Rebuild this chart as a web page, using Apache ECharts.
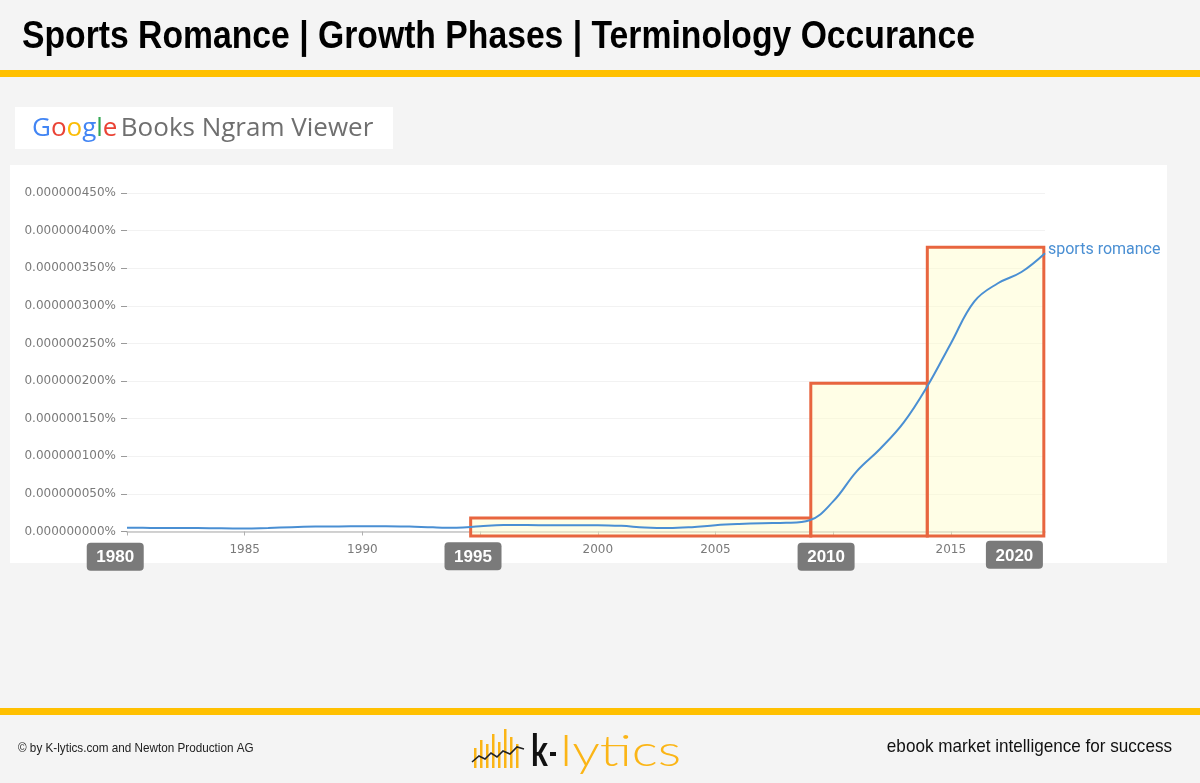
<!DOCTYPE html>
<html>
<head>
<meta charset="UTF-8">
<title>Sports Romance | Growth Phases | Terminology Occurance</title>
<script src="https://cdn.jsdelivr.net/npm/echarts@6/dist/echarts.min.js"></script>
<style>
  html, body { margin: 0; padding: 0; background: #f4f4f4; }
  #chart { width: 1200px; height: 783px; }
</style>
</head>
<body>
<div id="chart"></div>
<script>
// ngram frequency of "sports romance", in billionths of a percent (450 -> 0.000000450%)
const years = [1980, 1981, 1982, 1983, 1984, 1985, 1986, 1987, 1988, 1989,
               1990, 1991, 1992, 1993, 1994, 1995, 1996, 1997, 1998, 1999,
               2000, 2001, 2002, 2003, 2004, 2005, 2006, 2007, 2008, 2009,
               2010, 2011, 2012, 2013, 2014, 2015, 2016, 2017, 2018, 2019];
const frequency = [5, 4.8, 4.6, 4.5, 4.2, 4, 4.8, 5.8, 6.5, 6.8,
                   7, 7, 6.5, 5.5, 5, 7, 8.5, 8.5, 8.3, 8.3,
                   8.4, 7.5, 5.3, 4.5, 5.8, 8.4, 10, 11, 11.5, 15,
                   40, 80, 110, 145, 193, 250, 306, 330, 345, 370];
const seriesName = 'sports romance';

// growth phases drawn as boxes: start year, end year, top value
const phaseStart = [1994.6, 2009.05, 2014.0];
const phaseEnd = [2009.05, 2014.0, 2018.95];
const phaseTop = [18, 197, 378];

// year badges under the axis
const badgeLabels = ['1980', '1995', '2010', '2020'];

const chart = echarts.init(document.getElementById('chart'));

const axisFont = 'DejaVu Sans';
const yellowLogo = '#fbb516';

const baseGraphic = [
  // header
  { type: 'text', x: 22, y: 38, scaleX: 0.887, z: 10,
    style: { text: 'Sports Romance | Growth Phases | Terminology Occurance', verticalAlign: 'middle',
             font: 'bold 38px "Liberation Sans", sans-serif', fill: '#000' } },
  { type: 'rect', shape: { x: 0, y: 70, width: 1200, height: 7 }, style: { fill: '#ffc000' } },
  // google ngram badge
  { type: 'rect', shape: { x: 15, y: 107, width: 378, height: 42 }, style: { fill: '#fff' } },
  { type: 'text', x: 32, y: 129, z: 10,
    style: {
      text: '{b|G}{r|o}{y|o}{b|g}{g|l}{r|e} {t|Books Ngram Viewer}',
      verticalAlign: 'middle',
      rich: {
        b: { fill: '#4285f4', font: '26px "Open Sans", sans-serif' },
        r: { fill: '#ea4335', font: '26px "Open Sans", sans-serif' },
        y: { fill: '#fbbc05', font: '26px "Open Sans", sans-serif' },
        g: { fill: '#34a853', font: '26px "Open Sans", sans-serif' },
        t: { fill: '#6f6f6f', font: '26px "Open Sans", sans-serif' }
      }
    } },
  // chart panel
  { type: 'rect', z: -10, shape: { x: 10, y: 165, width: 1157, height: 398 }, style: { fill: '#fff' } },
  // footer
  { type: 'rect', shape: { x: 0, y: 708, width: 1200, height: 7 }, style: { fill: '#ffc000' } },
  { type: 'text', x: 18, y: 748, scaleX: 0.9,
    style: { text: '© by K-lytics.com and Newton Production AG', verticalAlign: 'middle',
             font: '13px "Liberation Sans", sans-serif', fill: '#222' } },
  { type: 'text', x: 1172, y: 747, scaleX: 0.9,
    style: { text: 'ebook market intelligence for success', align: 'right', verticalAlign: 'middle',
             font: '19px "Liberation Sans", sans-serif', fill: '#111' } },
  // k-lytics logo
  { type: 'group', children: [
    { type: 'rect', shape: { x: 474, y: 748, width: 2.5, height: 20 }, style: { fill: yellowLogo } },
    { type: 'rect', shape: { x: 480, y: 740, width: 2.5, height: 28 }, style: { fill: yellowLogo } },
    { type: 'rect', shape: { x: 486, y: 744, width: 2.5, height: 24 }, style: { fill: yellowLogo } },
    { type: 'rect', shape: { x: 492, y: 734, width: 2.5, height: 34 }, style: { fill: yellowLogo } },
    { type: 'rect', shape: { x: 498, y: 742, width: 2.5, height: 26 }, style: { fill: yellowLogo } },
    { type: 'rect', shape: { x: 504, y: 729, width: 2.5, height: 39 }, style: { fill: yellowLogo } },
    { type: 'rect', shape: { x: 510, y: 737, width: 2.5, height: 31 }, style: { fill: yellowLogo } },
    { type: 'rect', shape: { x: 516, y: 744, width: 2.5, height: 24 }, style: { fill: yellowLogo } },
    { type: 'polyline', shape: { points: [[472, 762], [479, 756], [485, 759], [491, 753], [497, 757], [503, 751], [510, 754], [517, 747], [524, 749]] },
      style: { stroke: '#222', lineWidth: 1.6, fill: null } },
    { type: 'text', x: 531, y: 752, scaleX: 0.72,
      style: { text: 'k', verticalAlign: 'middle', font: 'bold 44px Lato, sans-serif', fill: '#111' } },
    { type: 'rect', shape: { x: 550, y: 752, width: 6, height: 4 }, style: { fill: '#111' } },
    { type: 'text', x: 560, y: 752, scaleX: 1.25,
      style: { text: 'lytics', verticalAlign: 'middle', font: '300 44px Lato, sans-serif', fill: yellowLogo } }
  ] }
];

const option = {
  backgroundColor: '#f4f4f4',
  animation: false,
  graphic: baseGraphic,
  grid: { left: 127, right: 155, top: 193, bottom: 251.5 },
  xAxis: {
    type: 'value', min: 1980, max: 2019, interval: 5,
    axisLine: { show: true, lineStyle: { color: '#c4c4c4', width: 1.5 } },
    axisTick: { show: true, length: 4, lineStyle: { color: '#b0b0b0' } },
    axisLabel: { color: '#7a7a7a', fontFamily: axisFont, fontSize: 12, margin: 12,
                 showMaxLabel: false, formatter: v => String(v) },
    splitLine: { show: false }
  },
  yAxis: {
    type: 'value', min: 0, max: 450, interval: 50,
    axisLine: { show: false },
    axisTick: { show: true, length: 6, lineStyle: { color: '#9a9a9a' } },
    axisLabel: {
      color: '#7a7a7a', fontFamily: axisFont, fontSize: 12, margin: 11,
      formatter: v => (v * 1e-9).toFixed(9) + '%'
    },
    splitLine: { show: true, lineStyle: { color: '#f2f2f2' } }
  },
  series: [{
    name: seriesName,
    type: 'line',
    z: 5,
    data: years.map((y, i) => [y, frequency[i]]),
    smooth: 0.4,
    showSymbol: false,
    clip: false,
    lineStyle: { color: '#4a8fd3', width: 2 },
    endLabel: {
      show: true, formatter: seriesName, color: '#4a8fd3',
      fontFamily: 'Roboto', fontSize: 16, distance: 3, offset: [0, -3]
    }
  }]
};

chart.setOption(option);

// phase boxes and year badges, placed through the chart's own axes
const toPx = (x, y) => chart.convertToPixel({ gridIndex: 0 }, [x, y]);
const extra = [];
phaseStart.forEach((s, i) => {
  const a = toPx(s, phaseTop[i]);
  const b = toPx(phaseEnd[i], -6);
  extra.push({
    type: 'rect', z: 3,
    shape: { x: a[0], y: a[1], width: b[0] - a[0], height: b[1] - a[1] },
    style: { fill: 'rgba(255,252,200,0.45)', stroke: '#e8653f', lineWidth: 3 }
  });
});
const badgeX = [1979.5, 1994.7, 2009.7, 2017.7];
const badgeY = [-33.5, -33, -33.5, -31];
badgeLabels.forEach((t, i) => {
  const c = toPx(badgeX[i], badgeY[i]);
  extra.push({
    type: 'rect', z: 20,
    shape: { x: c[0] - 28.5, y: c[1] - 14, width: 57, height: 28, r: 4 },
    style: { fill: '#7a7a7a' }
  });
  extra.push({
    type: 'text', z: 21, x: c[0], y: c[1] + 1,
    style: { text: t, align: 'center', verticalAlign: 'middle',
             font: 'bold 17px "Liberation Sans", sans-serif', fill: '#fff' }
  });
});
chart.setOption({ graphic: baseGraphic.concat(extra) });
</script>
</body>
</html>
